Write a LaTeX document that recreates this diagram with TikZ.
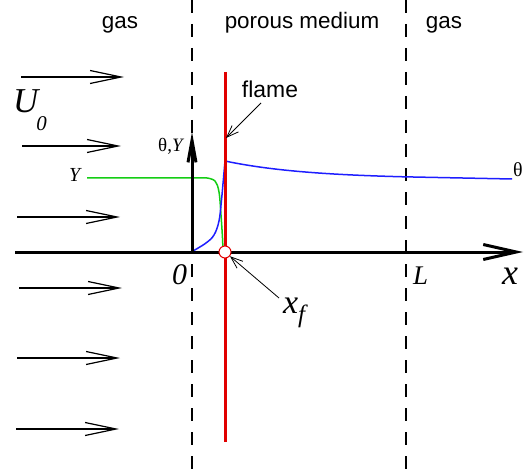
\documentclass[tikz,border=0pt]{standalone}
\usepackage{fontspec}
\setmainfont{Liberation Serif}
\newfontfamily\arial{Liberation Sans}
\usetikzlibrary{arrows.meta}
\definecolor{redc}{RGB}{225,0,0}
\definecolor{bluec}{RGB}{30,30,255}
\definecolor{greenc}{RGB}{20,205,20}
\newcommand{\fs}[1]{\fontsize{#1}{#1}\selectfont}
\begin{document}
\begin{tikzpicture}[x=1bp,y=-1bp,
  dashline/.style={line width=2.5bp, dash pattern=on 13bp off 11bp},
  axisline/.style={line width=3bp},
  flow/.style={line width=1.2bp, -{Straight Barb[length=31bp,width=13bp,line width=1.2bp]}},
  pointer/.style={line width=0.8bp, -{Straight Barb[length=12bp,width=9bp,line width=0.8bp]}},
  lbl/.style={inner sep=0pt, anchor=base west},
  clbl/.style={inner sep=0pt, anchor=base},
  curve/.style={line width=1.5bp}]
\useasboundingbox (0,0) rectangle (525,476);
% dashed boundaries
\coordinate (d1t) at (192,0); \coordinate (d1b) at (192,476);
\coordinate (d2t) at (406,0); \coordinate (d2b) at (406,476);
\draw[dashline] (d1t) -- (d1b);
\draw[dashline] (d2t) -- (d2b);
% flow arrows
\foreach \i/\y/\a/\b in {1/77/21/124, 2/146/22/121, 3/217/17/120, 4/288/19/122, 5/358/17/120, 6/429/16/119}{
  \coordinate (fa\i) at (\a,\y); \coordinate (fb\i) at (\b,\y);
  \draw[flow] (fa\i) -- (fb\i);
}
% curves
\draw[curve, greenc] (87,178) -- plot[smooth, tension=0.6] coordinates {(207,178) (215,181) (219,192) (221,215) (222.5,238) (223,251)};
\draw[curve, bluec] plot[smooth, tension=0.6] coordinates {(193,251) (206,243) (214,235) (219,221) (221.5,200) (223.5,178) (225,161)}
  -- plot[domain=225:406, samples=50] (\x,{179-18*exp(-(\x-225)/85)}) -- (512,179);
% axes
\coordinate (xs) at (15,252); \coordinate (xe) at (523,252);
\draw[axisline, -{Straight Barb[length=33bp,width=15bp]}] (xs) -- (xe);
\coordinate (o) at (192,252); \coordinate (yt) at (192,132);
\draw[axisline, -{Straight Barb[length=22bp,width=8bp]}] (o) -- (yt);
% flame line
\coordinate (ft) at (225,72); \coordinate (fb) at (225,442);
\draw[redc, line width=3bp] (ft) -- (fb);
\node[circle, draw=redc, fill=white, line width=1bp, minimum size=12bp, inner sep=0pt] (xfpt) at (225,252) {};
% labels
\node[clbl] (gasL) at (120,29) {\arial\fs{22.5}gas};
\node[clbl] (pm) at (302,29) {\arial\fs{22.5}porous medium};
\node[clbl] (gasR) at (444,29) {\arial\fs{22.5}gas};
\node[clbl] (flamelbl) at (270,98) {\arial\fs{23}flame};
\coordinate (flamestart) at (261,103); \coordinate (flametip) at (226,138);
\draw[pointer] (flamestart) -- (flametip);
\node[lbl] (U) at (13,113) {\fs{35}\itshape U\hspace{-2bp}\raisebox{-18bp}{\fs{21}0}};
\node[lbl] (thY) at (158,152) {\fs{19}θ,\textit{Y}};
\node[lbl] (Ylbl) at (69,182) {\fs{20}\itshape Y};
\node[lbl] (thR) at (513,177) {\fs{20}θ};
\node[lbl] (zero) at (172,284) {\fs{30}\itshape 0};
\node[lbl] (Llbl) at (413,284) {\fs{27}\itshape L};
\node[lbl] (xlbl) at (502,284) {\fs{36}\itshape x};
\node[lbl] (xf) at (283,313) {\fs{34}\itshape x\raisebox{-9bp}{\fs{25}f}};
\coordinate (xfs) at (279,298);
\draw[pointer] (xfs) -- (xfpt);
\end{tikzpicture}
\end{document}
